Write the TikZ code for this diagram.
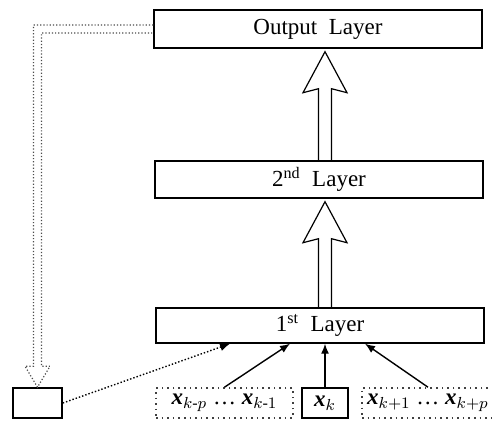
\documentclass[tikz,border=0pt]{standalone}
\usepackage{amsmath}
\usepackage{fontspec}
\setmainfont{Liberation Serif}
\usepackage{tikz}
\usetikzlibrary{arrows.meta,calc}

\newcommand{\xb}{\textbf{\textit{x}}}

\begin{document}
\begin{tikzpicture}[
    x=0.5pt, y=-0.5pt,
    font=\fontsize{11.5}{13}\selectfont,
    layer/.style={draw, line width=0.7pt, minimum width=164pt,
                  inner sep=0pt},
    inbox/.style={draw=black!75, dotted, line width=0.8pt,
                  minimum height=15pt, inner sep=0pt},
    xkbox/.style={draw, line width=0.8pt, minimum height=15pt,
                  minimum width=23pt, inner sep=0pt},
    fbbox/.style={draw, line width=0.8pt, minimum height=15pt,
                  minimum width=24.5pt, inner sep=0pt},
    conn/.style={-{Latex[length=5pt,width=4pt]}, line width=0.7pt},
    hollow/.style={draw, line width=0.6pt, line join=miter},
    feed/.style={draw=black!70, densely dotted, line width=0.6pt},
]
\useasboundingbox (0,0) rectangle (492,420);

% --- layers ---
\node[layer, minimum height=19pt]   (out) at (318,29)    {Output\ \ Layer};
\node[layer, minimum height=18.5pt] (l2)  at (319,179.5) {2\textsuperscript{nd}\ \ Layer};
\node[layer, minimum height=17.5pt] (l1)  at (320,325.5) {1\textsuperscript{st}\ \ Layer};

% --- inputs ---
\node[fbbox] (fb) at (37.5,403) {};
\node[inbox, minimum width=68.5pt] (past) at (224.5,403)
  {\xb$_{k\text{-}p}$ \dots\ \xb$_{k\text{-}1}$};
\node[xkbox] (xk) at (325,403) {\xb$_{k}$};
\node[inbox, minimum width=66pt] (fut) at (428,403)
  {\xb$_{k+1}$ \dots\ \xb$_{k+p}$};

% --- input connectors ---
\draw[conn] (past.north) -- ($(l1.south)+(-30,0)$);
\draw[conn] (xk.north)   -- (xk.north |- l1.south);
\draw[conn] (fut.north)  -- ($(l1.south)+(45,0)$);
\draw[conn, densely dotted] (fb.east) -- ($(l1.south)+(-90,0)$);

% --- hollow arrows between layers ---
\foreach \a/\b in {l1/l2, l2/out} {
  \coordinate (tip) at ($(\b.south -| xk.north)+(0,3)$);
  \coordinate (base) at (\a.north -| xk.north);
  \draw[hollow] ($(base)+(-6.5,0)$) -- ($(tip)+(-6.5,37)$)
    -- ($(tip)+(-22,41)$) -- (tip) -- ($(tip)+(22,41)$)
    -- ($(tip)+(6.5,37)$) -- ($(base)+(6.5,0)$);
}

% --- feedback from output ---
\draw[feed] ($(out.west)+(0,-4)$) -- ($(fb.north |- out.west)+(-4,-4)$)
  -- ($(fb.north)+(-4,-21)$) -- ($(fb.north)+(-12.5,-21)$) -- (fb.north)
  -- ($(fb.north)+(12.5,-21)$) -- ($(fb.north)+(4,-21)$)
  -- ($(fb.north |- out.west)+(4,4)$) -- ($(out.west)+(0,4)$);
\end{tikzpicture}
\end{document}
